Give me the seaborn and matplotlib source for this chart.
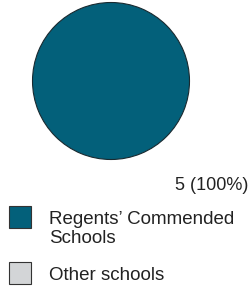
import matplotlib
matplotlib.use("Agg")
import matplotlib.pyplot as plt
from matplotlib.patches import Rectangle
import seaborn as sns

categories = ["Regents’ Commended\nSchools", "Other schools"]
values = [5, 0]
colors = ["#03607A", "#D3D5D7"]

sns.set_style("white")
plt.rcParams["font.family"] = ["Liberation Sans", "DejaVu Sans"]

W, H = 249, 288
fig = plt.figure(figsize=(W / 100, H / 100), dpi=100)
fig.patch.set_facecolor("white")

cx, cy, r = 111, 81, 78.5
ax = fig.add_axes([(cx - r) / W, (H - cy - r) / H, 2 * r / W, 2 * r / H])
wedges, _ = ax.pie(values, colors=colors, startangle=90, counterclock=False,
                   wedgeprops=dict(edgecolor="#1a2a30", linewidth=0.8))
for w, v in zip(wedges, values):
    if v == 0:
        w.set_visible(False)
ax.set_xlim(-1, 1)
ax.set_ylim(-1, 1)
ax.set_aspect("auto")
ax.axis("off")

total = sum(values)
ax.text((175 - cx) / r, -(185.5 - cy) / r,
        f"{values[0]} ({values[0] / total * 100:.0f}%)",
        ha="left", va="center", fontsize=13, color="#222222", clip_on=False)

# legend
box = 22
rows = [(206, 218.5), (262, 276)]
for (top, ty), lab, col in zip(rows, categories, colors):
    fig.patches.append(Rectangle((9 / W, (H - top - box) / H), box / W, box / H,
                                 transform=fig.transFigure, facecolor=col,
                                 edgecolor="#333333", linewidth=0.8))
    if "\n" in lab:
        fig.text(49 / W, (H - ty + 8) / H, lab, ha="left", va="top",
                 fontsize=13.5, color="#222222", linespacing=1.2)
    else:
        fig.text(49 / W, (H - ty) / H, lab, ha="left", va="center",
                 fontsize=13.5, color="#222222")

fig.savefig("out.png", dpi=100, facecolor="white")
